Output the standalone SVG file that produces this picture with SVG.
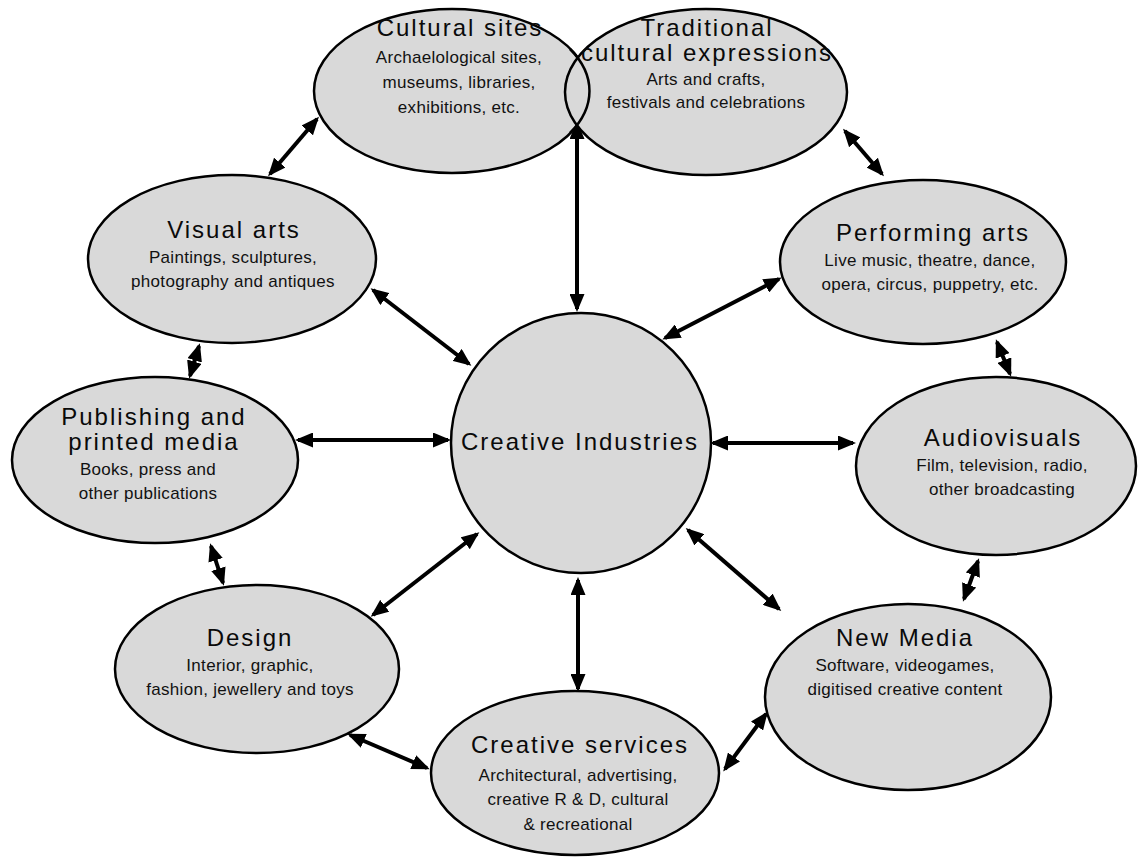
<svg xmlns="http://www.w3.org/2000/svg" width="1138" height="858" viewBox="0 0 1138 858">
  <style>
    .node { fill: #d9d9d9; stroke: #000; stroke-width: 2.5; }
    .outline { fill: none; stroke: #000; stroke-width: 2.5; }
    .title { font-family: "Liberation Sans", Arial, sans-serif; font-size: 24px; letter-spacing: 2px; fill: #0a0a0a; text-anchor: middle; }
    .sub { font-family: "Liberation Sans", Arial, sans-serif; font-size: 17px; letter-spacing: 0.3px; fill: #111; text-anchor: middle; }
    .link { stroke: #000; stroke-width: 4; fill: none; marker-start: url(#head); marker-end: url(#head); }
  </style>
  <defs>
    <marker id="head" viewBox="0 0 18 15" refX="15" refY="7.5" markerWidth="18" markerHeight="15" markerUnits="userSpaceOnUse" orient="auto-start-reverse">
      <path d="M0,0 L18,7.5 L0,15 z" fill="#000"/>
    </marker>
  </defs>
  <rect width="1138" height="858" fill="#fff"/>

  <g id="connectors">
    <line class="link" x1="270" y1="174" x2="317" y2="119"/>
    <line class="link" x1="577" y1="124" x2="577" y2="309"/>
    <line class="link" x1="845" y1="131" x2="882" y2="174"/>
    <line class="link" x1="373" y1="290" x2="469" y2="364"/>
    <line class="link" x1="779" y1="279" x2="665" y2="338"/>
    <line class="link" x1="199" y1="346" x2="190" y2="376"/>
    <line class="link" x1="997" y1="342" x2="1010" y2="374"/>
    <line class="link" x1="298" y1="440" x2="448" y2="440"/>
    <line class="link" x1="713" y1="443" x2="853" y2="443"/>
    <line class="link" x1="211" y1="546" x2="223" y2="583"/>
    <line class="link" x1="373" y1="615" x2="477" y2="534"/>
    <line class="link" x1="578" y1="580" x2="578" y2="689"/>
    <line class="link" x1="688" y1="530" x2="779" y2="609"/>
    <line class="link" x1="978" y1="561" x2="964" y2="599"/>
    <line class="link" x1="350" y1="735" x2="427" y2="768"/>
    <line class="link" x1="725" y1="769" x2="766" y2="714"/>
  </g>

  <g id="cultural-sites">
    <ellipse class="node" cx="452" cy="91" rx="138" ry="82"/>
    <text class="title" x="460" y="36">Cultural sites</text>
    <text class="sub" x="459" y="63">Archaelological sites,</text>
    <text class="sub" x="459" y="88">museums, libraries,</text>
    <text class="sub" x="459" y="113">exhibitions, etc.</text>
  </g>

  <g id="traditional-cultural-expressions">
    <ellipse class="node" cx="706" cy="92" rx="141" ry="83"/>
    <!-- right-hand arc of the Cultural sites outline, kept visible inside the overlap -->
    <path class="outline" d="M 570,49 A 138,82 0 0 1 570,133"/>
    <text class="title" x="707" y="36">Traditional</text>
    <text class="title" x="707" y="61">cultural expressions</text>
    <text class="sub" x="706" y="85">Arts and crafts,</text>
    <text class="sub" x="706" y="108">festivals and celebrations</text>
  </g>

  <g id="visual-arts">
    <ellipse class="node" cx="232" cy="259" rx="144" ry="84"/>
    <text class="title" x="234" y="238">Visual arts</text>
    <text class="sub" x="233" y="263">Paintings, sculptures,</text>
    <text class="sub" x="233" y="287">photography and antiques</text>
  </g>

  <g id="performing-arts">
    <ellipse class="node" cx="923" cy="262" rx="143" ry="82"/>
    <text class="title" x="933" y="241">Performing arts</text>
    <text class="sub" x="930" y="266">Live music, theatre, dance,</text>
    <text class="sub" x="930" y="290">opera, circus, puppetry, etc.</text>
  </g>

  <g id="publishing">
    <ellipse class="node" cx="155" cy="460" rx="143" ry="83"/>
    <text class="title" x="154" y="425">Publishing and</text>
    <text class="title" x="154" y="450">printed media</text>
    <text class="sub" x="148" y="475">Books, press and</text>
    <text class="sub" x="148" y="499">other publications</text>
  </g>

  <g id="creative-industries">
    <circle class="node" cx="581" cy="443" r="130"/>
    <text class="title" x="580" y="450">Creative Industries</text>
  </g>

  <g id="audiovisuals">
    <ellipse class="node" cx="996" cy="466" rx="140" ry="89"/>
    <text class="title" x="1003" y="446">Audiovisuals</text>
    <text class="sub" x="1002" y="471">Film, television, radio,</text>
    <text class="sub" x="1002" y="495">other broadcasting</text>
  </g>

  <g id="design">
    <ellipse class="node" cx="257" cy="669" rx="142" ry="84"/>
    <text class="title" x="250" y="646">Design</text>
    <text class="sub" x="250" y="671">Interior, graphic,</text>
    <text class="sub" x="250" y="695">fashion, jewellery and toys</text>
  </g>

  <g id="new-media">
    <ellipse class="node" cx="908" cy="697" rx="143" ry="93"/>
    <text class="title" x="905" y="646">New Media</text>
    <text class="sub" x="905" y="671">Software, videogames,</text>
    <text class="sub" x="905" y="695">digitised creative content</text>
  </g>

  <g id="creative-services">
    <ellipse class="node" cx="575" cy="773" rx="144" ry="82"/>
    <text class="title" x="580" y="753">Creative services</text>
    <text class="sub" x="578" y="781">Architectural, advertising,</text>
    <text class="sub" x="578" y="805">creative R &amp; D, cultural</text>
    <text class="sub" x="578" y="830">&amp; recreational</text>
  </g>
</svg>
